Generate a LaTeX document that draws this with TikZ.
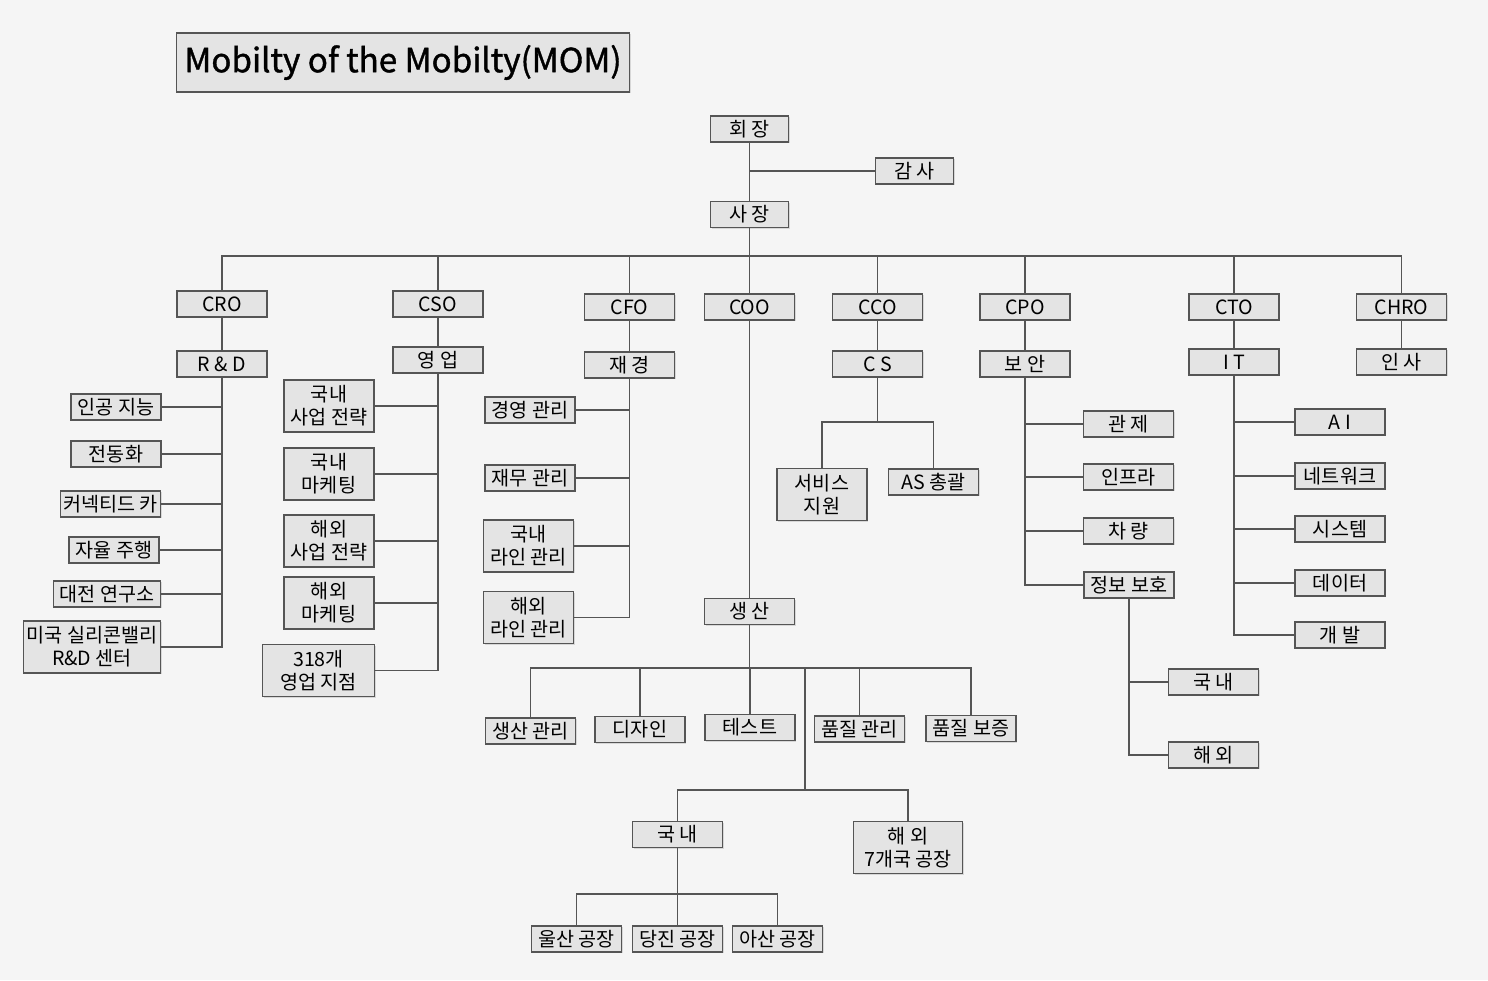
\documentclass[tikz,border=0pt]{standalone}
\usepackage{fontspec}
\setmainfont{Noto Sans CJK KR}
\newfontfamily\titlefont[FakeBold=1.2]{Noto Sans CJK KR}
\usetikzlibrary{shadows}
\definecolor{bgcol}{HTML}{F5F5F5}
\definecolor{boxcol}{HTML}{E4E4E4}
\definecolor{linecol}{HTML}{555555}
\tikzset{
  unit/.style={draw=linecol, fill=boxcol, line width=0.6pt, minimum width=45pt,
    minimum height=13pt, inner sep=1pt, align=center,
    font=\fontsize{9.8}{11.5}\selectfont,
    drop shadow={shadow xshift=0.6pt, shadow yshift=-0.6pt, opacity=0.25}},
  unit2/.style={unit, minimum height=26pt},
  head/.style={unit, minimum width=39pt},
  link/.style={draw=linecol, line width=0.6pt}
}
\begin{document}
\begin{tikzpicture}[x=0.5pt,y=-0.5pt]
  \fill[bgcol] (0,0) rectangle (1488,980);

  % title
  \node[unit, minimum width=226.5pt, minimum height=29.5pt, font=\titlefont\fontsize{16.6}{20}\selectfont]
    (title) at (403,62.5) {Mobilty of the Mobilty(MOM)};

  % top
  \node[head] (chair) at (749.5,129) {회 장};
  \node[head] (audit) at (914.5,171) {감 사};
  \node[head] (pres) at (749.5,214.5) {사 장};
  \draw[link] (chair) -- (pres);
  \draw[link] (audit.west) -- (audit.west -| chair.south);

  % chiefs
  \node[unit] (cro) at (222,304) {CRO};
  \node[unit] (cso) at (438,304) {CSO};
  \node[unit] (cfo) at (629.5,307) {CFO};
  \node[unit] (coo) at (749.5,307) {COO};
  \node[unit] (cco) at (877.5,307) {CCO};
  \node[unit] (cpo) at (1025,307) {CPO};
  \node[unit] (cto) at (1234,307) {CTO};
  \node[unit] (chro) at (1401.5,307) {CHRO};
  \coordinate (bus) at (749.5,256);
  \draw[link] (pres.south) -- (bus);
  \foreach \n in {cro,cso,cfo,coo,cco,cpo,cto,chro} {
    \draw[link] (\n.north) |- (bus);
  }

  % departments
  \node[unit] (rnd) at (222,364) {R \& D};
  \node[unit] (sales) at (438,360) {영 업};
  \node[unit] (fin) at (629.5,365) {재 경};
  \node[unit] (cs) at (877.5,364) {C S};
  \node[unit] (sec) at (1025,364) {보 안};
  \node[unit] (it) at (1234,362) {I T};
  \node[unit] (hr) at (1401.5,362) {인 사};
  \draw[link] (cro) -- (rnd);
  \draw[link] (cso) -- (sales);
  \draw[link] (cfo) -- (fin);
  \draw[link] (cco) -- (cs);
  \draw[link] (cpo) -- (sec);
  \draw[link] (cto) -- (it);
  \draw[link] (chro) -- (hr);

  % R&D
  \node[unit] (ai) at (116,407) {인공 지능};
  \node[unit] (ev) at (116,454) {전동화};
  \node[unit, minimum width=50pt] (conn) at (110.5,504) {커넥티드 카};
  \node[unit] (auto) at (114,550) {자율 주행};
  \node[unit, minimum width=53.5pt] (djlab) at (107,594) {대전 연구소};
  \node[unit2, minimum width=68.5pt] (usrnd) at (92,647) {미국 실리콘밸리\\R\&D 센터};
  \foreach \n in {ai,ev,conn,auto,djlab,usrnd} {
    \draw[link] (rnd.south) |- (\n.east);
  }

  % sales
  \node[unit2] (dstrat) at (329,406) {국내\\사업 전략};
  \node[unit2] (dmkt) at (329,474) {국내\\마케팅};
  \node[unit2] (ostrat) at (329,541) {해외\\사업 전략};
  \node[unit2] (omkt) at (329,603) {해외\\마케팅};
  \node[unit2, minimum width=56pt] (branch) at (318.5,670.5) {318개\\영업 지점};
  \foreach \n in {dstrat,dmkt,ostrat,omkt,branch} {
    \draw[link] (sales.south) |- (\n.east);
  }

  % finance
  \node[unit] (mgmt) at (530,410) {경영 관리};
  \node[unit] (acct) at (530,478) {재무 관리};
  \node[unit2] (dline) at (528.5,546) {국내\\라인 관리};
  \node[unit2] (oline) at (528.5,617.5) {해외\\라인 관리};
  \foreach \n in {mgmt,acct,dline,oline} {
    \draw[link] (fin.south) |- (\n.east);
  }

  % customer service
  \node[unit2] (svc) at (822,494.5) {서비스\\지원};
  \node[unit] (as) at (933.5,482) {AS 총괄};
  \coordinate (csbus) at (877.5,422);
  \draw[link] (cs.south) -- (csbus);
  \draw[link] (svc.north) |- (csbus);
  \draw[link] (as.north) |- (csbus);

  % security
  \node[unit] (ctrl) at (1128.5,424) {관 제};
  \node[unit] (infra) at (1128.5,477) {인프라};
  \node[unit] (car) at (1128.5,531) {차 량};
  \node[unit] (info) at (1129,585) {정보 보호};
  \foreach \n in {ctrl,infra,car,info} {
    \draw[link] (sec.south) |- (\n.west);
  }
  \node[unit] (idom) at (1213.5,682) {국 내};
  \node[unit] (iovs) at (1213.5,755) {해 외};
  \foreach \n in {idom,iovs} {
    \draw[link] (info.south) |- (\n.west);
  }

  % IT
  \node[unit] (aiu) at (1340,422) {A I};
  \node[unit] (net) at (1340,476) {네트워크};
  \node[unit] (sys) at (1340,529) {시스템};
  \node[unit] (data) at (1340,583) {데이터};
  \node[unit] (dev) at (1340,635) {개 발};
  \foreach \n in {aiu,net,sys,data,dev} {
    \draw[link] (it.south) |- (\n.west);
  }

  % production
  \node[unit] (prod) at (749.5,611.5) {생 산};
  \draw[link] (coo) -- (prod);
  \node[unit] (pmgmt) at (530.5,731) {생산 관리};
  \node[unit] (design) at (640,729.5) {디자인};
  \node[unit] (test) at (750,727.5) {테스트};
  \node[unit] (qc) at (859.5,729) {품질 관리};
  \node[unit] (qa) at (971,728.5) {품질 보증};
  \coordinate (prodbus) at (749.5,668);
  \draw[link] (prod.south) -- (prodbus);
  \foreach \n in {pmgmt,design,test,qc,qa} {
    \draw[link] (\n.north) |- (prodbus);
  }

  % plants
  \node[unit] (pdom) at (677.5,834.5) {국 내};
  \node[unit2, minimum width=54.5pt] (povs) at (908,847.5) {해 외\\7개국 공장};
  \coordinate (plantbus) at (805,790);
  \draw[link] (plantbus |- prodbus) -- (plantbus);
  \draw[link] (pdom.north) |- (plantbus);
  \draw[link] (povs.north) |- (plantbus);
  \node[unit] (ulsan) at (576.5,939) {울산 공장};
  \node[unit] (dangjin) at (677.5,939) {당진 공장};
  \node[unit] (asan) at (777.5,939) {아산 공장};
  \coordinate (factbus) at (677.5,894);
  \draw[link] (pdom.south) -- (factbus);
  \foreach \n in {ulsan,dangjin,asan} {
    \draw[link] (\n.north) |- (factbus);
  }
\end{tikzpicture}
\end{document}
